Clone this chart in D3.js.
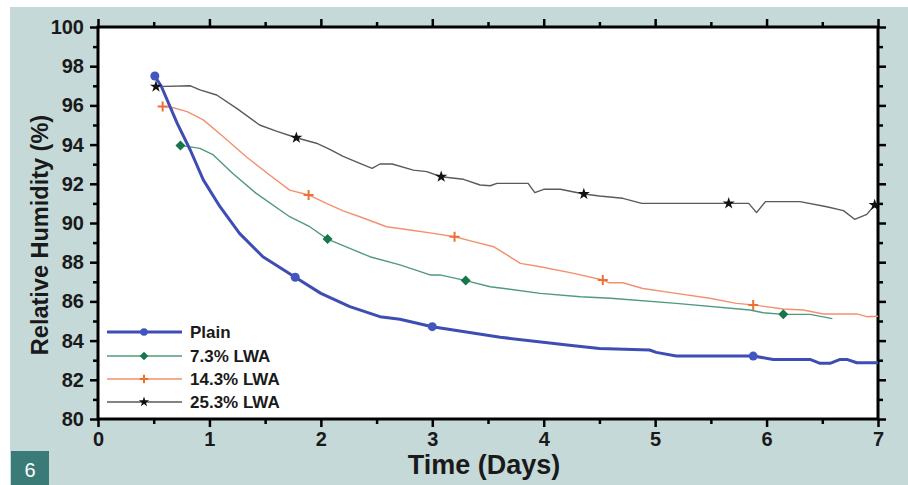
<!DOCTYPE html>
<html>
<head>
<meta charset="utf-8">
<script src="https://cdn.jsdelivr.net/npm/d3@7"></script>
<style>
  body { margin: 0; background: #fff; }
  svg { display: block; font-family: "Liberation Sans", Arial, sans-serif; }
</style>
</head>
<body>
<svg id="chart" width="908" height="485"></svg>
<script>
// --- data: [day, RH %] ---
const plain = [[0.51,97.5],[0.57,96.95],[0.71,95.1],[0.83,93.7],[0.945,92.2],[1.095,90.83],[1.27,89.47],[1.48,88.28],
  [1.77,87.23],[2.0,86.41],[2.26,85.73],[2.53,85.22],[2.71,85.09],[3.0,84.71],[3.61,84.17],[4.21,83.78],[4.5,83.6],
  [4.95,83.52],[5.01,83.4],[5.19,83.21],[5.88,83.21],[6.06,83.04],[6.39,83.04],[6.48,82.84],[6.57,82.84],[6.66,83.04],
  [6.72,83.04],[6.81,82.87],[7.0,82.87]];
const lwa73 = [[0.74,93.96],[0.915,93.81],[1.035,93.47],[1.21,92.53],[1.42,91.51],[1.72,90.32],[1.9,89.81],[2.06,89.18],
  [2.26,88.71],[2.44,88.28],[2.71,87.86],[2.98,87.35],[3.07,87.35],[3.3,87.06],[3.52,86.75],[3.97,86.41],[4.33,86.24],
  [4.6,86.16],[5.19,85.9],[5.85,85.56],[5.97,85.42],[6.15,85.34],[6.39,85.34],[6.59,85.12]];
const lwa143 = [[0.58,95.95],[0.676,95.88],[0.8,95.68],[0.945,95.26],[1.125,94.4],[1.33,93.38],[1.54,92.45],[1.72,91.68],
  [1.89,91.43],[2.05,91.0],[2.2,90.62],[2.35,90.32],[2.59,89.81],[2.8,89.64],[3.01,89.47],[3.2,89.3],[3.37,89.05],
  [3.55,88.79],[3.67,88.37],[3.79,87.94],[3.97,87.77],[4.27,87.43],[4.53,87.09],[4.59,86.95],[4.71,86.95],[4.89,86.66],
  [5.19,86.41],[5.49,86.16],[5.73,85.9],[5.88,85.82],[6.15,85.61],[6.33,85.56],[6.51,85.36],[6.81,85.36],[6.9,85.22],[7.0,85.24]];
const lwa253 = [[0.52,96.96],[0.83,97.0],[0.915,96.79],[1.065,96.53],[1.245,95.85],[1.45,95.0],[1.6,94.69],[1.78,94.35],
  [1.96,94.07],[2.08,93.76],[2.2,93.4],[2.35,93.04],[2.46,92.79],[2.53,93.01],[2.64,93.01],[2.83,92.7],[2.95,92.62],
  [3.08,92.36],[3.28,92.23],[3.43,91.94],[3.52,91.9],[3.58,92.02],[3.86,92.02],[3.92,91.55],[4.0,91.72],[4.15,91.72],
  [4.36,91.48],[4.5,91.38],[4.71,91.26],[4.88,91.0],[5.66,91.0],[5.84,91.0],[5.91,90.53],[5.99,91.09],[6.3,91.09],
  [6.54,90.83],[6.69,90.63],[6.79,90.19],[6.9,90.44],[6.97,90.92]];

// marker positions for each series
const plainMarks = [[0.51,97.5],[1.77,87.23],[3.0,84.71],[5.88,83.21]];
const lwa73Marks = [[0.74,93.96],[2.06,89.18],[3.3,87.06],[6.15,85.34]];
const lwa143Marks = [[0.58,95.95],[1.89,91.43],[3.2,89.3],[4.53,87.09],[5.88,85.82]];
const lwa253Marks = [[0.52,96.96],[1.78,94.35],[3.08,92.36],[4.36,91.48],[5.66,91.0],[6.97,90.92]];

const seriesNames = ["Plain", "7.3% LWA", "14.3% LWA", "25.3% LWA"];
const xTicks = [0, 1, 2, 3, 4, 5, 6, 7];
const yTicks = [80, 82, 84, 86, 88, 90, 92, 94, 96, 98, 100];

const series = [
  { name: seriesNames[0], data: plain, marks: plainMarks, line: "#3d4db3", mark: "#4356c0", width: 3, shape: "circle" },
  { name: seriesNames[1], data: lwa73, marks: lwa73Marks, line: "#4f9a7c", mark: "#17774a", width: 1.4, shape: "diamond" },
  { name: seriesNames[2], data: lwa143, marks: lwa143Marks, line: "#f3906e", mark: "#ee6f35", width: 1.4, shape: "plus" },
  { name: seriesNames[3], data: lwa253, marks: lwa253Marks, line: "#5a5a5a", mark: "#111", width: 1.4, shape: "star" }
];

const svg = d3.select("#chart");
const margin = { left: 98, right: 30, top: 27, bottom: 66 };
const W = 908, H = 485;

// backdrop panel
svg.append("rect").attr("x", 10).attr("y", 7).attr("width", W - 10).attr("height", H - 7).attr("fill", "#c6d9d9");
svg.append("rect").attr("x", 11).attr("y", 451).attr("width", 38).attr("height", 34).attr("fill", "#3a7b78");
svg.append("text").attr("x", 30).attr("y", 477).attr("text-anchor", "middle")
  .attr("fill", "#fff").attr("font-size", 20).text("6");

const x = d3.scaleLinear().domain([0, 7]).range([margin.left, W - margin.right]);
const y = d3.scaleLinear().domain([80, 100]).range([H - margin.bottom, margin.top]);

svg.append("rect").attr("x", x(0)).attr("y", y(100)).attr("width", x(7) - x(0)).attr("height", y(80) - y(100)).attr("fill", "#fff");

// --- axes: major + minor ticks on all four sides ---
const minorX = d3.range(0.5, 7, 1);
const minorY = d3.range(81, 100, 2);

function styleAxis(g) {
  g.select(".domain").remove();
  g.selectAll(".tick line").attr("stroke", "#000").attr("stroke-width", 2.5);
  g.selectAll("text").attr("fill", "#1a1a1a").attr("font-weight", "bold").attr("font-size", 20);
}

svg.append("g").attr("transform", `translate(0,${y(80)})`)
  .call(d3.axisBottom(x).tickValues(xTicks).tickFormat(d3.format("d")).tickSize(8).tickPadding(5)).call(styleAxis);
svg.append("g").attr("transform", `translate(0,${y(80)})`)
  .call(d3.axisBottom(x).tickValues(minorX).tickFormat("").tickSize(5)).call(styleAxis);
svg.append("g").attr("transform", `translate(0,${y(100)})`)
  .call(d3.axisTop(x).tickValues(xTicks).tickFormat("").tickSize(8)).call(styleAxis);
svg.append("g").attr("transform", `translate(0,${y(100)})`)
  .call(d3.axisTop(x).tickValues(minorX).tickFormat("").tickSize(5)).call(styleAxis);

svg.append("g").attr("transform", `translate(${x(0)},0)`)
  .call(d3.axisLeft(y).tickValues(yTicks).tickFormat(d3.format("d")).tickSize(8).tickPadding(6)).call(styleAxis);
svg.append("g").attr("transform", `translate(${x(0)},0)`)
  .call(d3.axisLeft(y).tickValues(minorY).tickFormat("").tickSize(5)).call(styleAxis);
svg.append("g").attr("transform", `translate(${x(7)},0)`)
  .call(d3.axisRight(y).tickValues(yTicks).tickFormat("").tickSize(8)).call(styleAxis);
svg.append("g").attr("transform", `translate(${x(7)},0)`)
  .call(d3.axisRight(y).tickValues(minorY).tickFormat("").tickSize(5)).call(styleAxis);

// frame
svg.append("rect").attr("x", x(0)).attr("y", y(100)).attr("width", x(7) - x(0)).attr("height", y(80) - y(100))
  .attr("fill", "none").attr("stroke", "#000").attr("stroke-width", 3);

// titles
svg.append("text").attr("x", 484).attr("y", 474).attr("text-anchor", "middle")
  .attr("font-weight", "bold").attr("font-size", 27).attr("fill", "#1a1a1a").text("Time (Days)");
svg.append("text").attr("transform", `translate(48,235) rotate(-90)`).attr("text-anchor", "middle")
  .attr("font-weight", "bold").attr("font-size", 23.5).attr("fill", "#1a1a1a").text("Relative Humidity (%)");

// --- markers ---
function drawMarker(g, shape, color, cx, cy, s) {
  if (shape === "circle") {
    g.append("circle").attr("cx", cx).attr("cy", cy).attr("r", 4.5 * s).attr("fill", color);
  } else if (shape === "diamond") {
    const r = 5 * s;
    g.append("path").attr("transform", `translate(${cx},${cy})`)
      .attr("d", `M0,${-r}L${r},0L0,${r}L${-r},0Z`).attr("fill", color);
  } else if (shape === "plus") {
    g.append("path").attr("transform", `translate(${cx},${cy})`)
      .attr("d", `M${-5 * s},0H${5 * s}M0,${-5 * s}V${5 * s}`).attr("stroke", color).attr("stroke-width", 2);
  } else {
    g.append("path").attr("transform", `translate(${cx},${cy})`)
      .attr("d", d3.symbol(d3.symbolStar, 45 * s * s)).attr("fill", color);
  }
}

const line = d3.line().x(d => x(d[0])).y(d => y(d[1]));
const plot = svg.append("g");

series.slice().reverse().forEach(s => {
  plot.append("path").datum(s.data).attr("d", line)
    .attr("fill", "none").attr("stroke", s.line).attr("stroke-width", s.width).attr("stroke-linejoin", "round");
});
series.forEach(s => {
  s.marks.forEach(m => drawMarker(plot, s.shape, s.mark, x(m[0]), y(m[1]), 1));
});

// --- legend ---
const legend = svg.append("g");
const legendY = [332, 356, 379, 402];
series.forEach((s, i) => {
  legend.append("line").attr("x1", 107).attr("x2", 182).attr("y1", legendY[i]).attr("y2", legendY[i])
    .attr("stroke", s.line).attr("stroke-width", s.width);
  drawMarker(legend, s.shape, s.mark, 144, legendY[i], 0.85);
  legend.append("text").attr("x", 190).attr("y", legendY[i]).attr("dy", "0.36em")
    .attr("font-weight", "bold").attr("font-size", 17).attr("fill", "#1a1a1a").text(s.name);
});
</script>
</body>
</html>
